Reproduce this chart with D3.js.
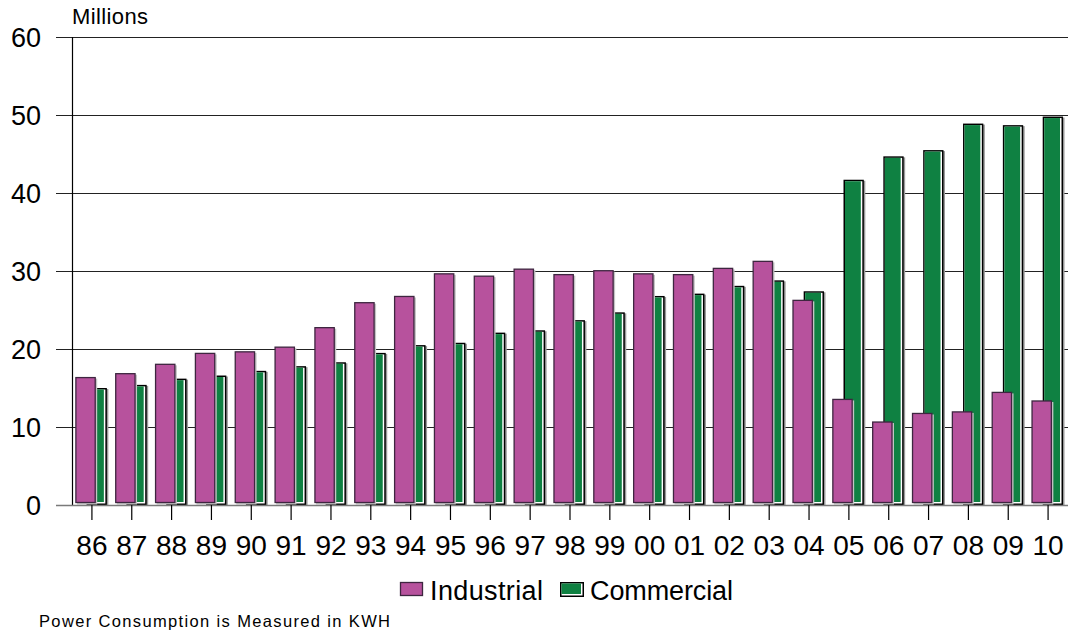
<!DOCTYPE html>
<html>
<head>
<meta charset="utf-8">
<script src="https://cdn.jsdelivr.net/npm/d3@7"></script>
<style>
  html, body { margin: 0; padding: 0; background: #fff; }
  svg { display: block; font-family: "Liberation Sans", Arial, sans-serif; }
</style>
</head>
<body>
<svg id="chart" width="1068" height="634"></svg>
<script>
(function () {
  'use strict';

  // ── Data ────────────────────────────────────────────────────────────────
  const years      = ['86','87','88','89','90','91','92','93','94','95','96','97','98',
                      '99','00','01','02','03','04','05','06','07','08','09','10'];
  const industrial = [16.4, 16.9, 18.1, 19.5, 19.7, 20.3, 22.8, 26.0, 26.8, 29.7, 29.4, 30.3, 29.6,
                      30.1, 29.7, 29.6, 30.4, 31.3, 26.3, 13.6, 10.7, 11.8, 12.0, 14.5, 13.4];
  const commercial = [15.0, 15.4, 16.2, 16.6, 17.2, 17.8, 18.3, 19.5, 20.5, 20.8, 22.1, 22.4, 23.7,
                      24.7, 26.8, 27.1, 28.1, 28.8, 27.4, 41.7, 44.7, 45.5, 48.9, 48.7, 49.8];
  const yTicks     = [0, 10, 20, 30, 40, 50, 60];

  const PINK = '#B7529D', PINK_EDGE = '#3e2640';
  const GREEN = '#0F8142';

  const svg = d3.select('#chart');
  const L = 72, R = 1068, T = 37, B = 505;

  const x = d3.scaleBand().domain(years).range([L, R]).padding(0);
  const y = d3.scaleLinear().domain([0, 60]).range([B, T]);
  const bw = x.bandwidth();
  const barW = bw * 0.51;

  // ── Grid & axes ─────────────────────────────────────────────────────────
  svg.append('g').selectAll('line').data(yTicks.filter(d => d > 0)).join('line')
    .attr('x1', 56).attr('x2', R)
    .attr('y1', d => Math.round(y(d)) + 0.5).attr('y2', d => Math.round(y(d)) + 0.5)
    .attr('stroke', '#222').attr('stroke-width', 1.2);

  svg.append('g').selectAll('text').data(yTicks).join('text')
    .attr('x', 41).attr('y', d => y(d) + 10)
    .attr('text-anchor', 'end').attr('font-size', 27).attr('fill', '#000')
    .text(d => d);

  svg.append('text').attr('x', 72).attr('y', 23.5)
    .attr('font-size', 22).attr('fill', '#000')
    .attr('textLength', 76).attr('lengthAdjust', 'spacing').text('Millions');

  // ── Bars ────────────────────────────────────────────────────────────────
  const barBottom = y(0) - 2;

  // commercial (behind)
  const gG = svg.append('g');
  years.forEach((yr, i) => {
    const x0 = x(yr) + bw * 0.365, top = y(commercial[i]);
    const g = gG.append('g');
    g.append('rect').attr('x', x0 + 1.5).attr('y', top + 1).attr('width', barW).attr('height', B - top)
      .attr('fill', '#9a9a9a');
    g.append('rect').attr('x', x0).attr('y', top).attr('width', barW).attr('height', B - top)
      .attr('fill', '#000');
    g.append('rect').attr('x', x0 + 1.5).attr('y', top + 1.5).attr('width', barW - 3).attr('height', B - top - 3)
      .attr('fill', '#fff');
    g.append('rect').attr('x', x0 + 1.5).attr('y', top + 1.5).attr('width', barW - 4.5).attr('height', B - top - 4.5)
      .attr('fill', GREEN);
  });

  // y axis line over green edges
  svg.append('line').attr('x1', L + 0.5).attr('x2', L + 0.5).attr('y1', T).attr('y2', B)
    .attr('stroke', '#000').attr('stroke-width', 1.2);

  // industrial (front)
  const gP = svg.append('g');
  years.forEach((yr, i) => {
    const x0 = x(yr) + bw * 0.085, top = y(industrial[i]);
    gP.append('rect').attr('x', x0 + 1.5).attr('y', top + 1.5).attr('width', barW).attr('height', barBottom - top)
      .attr('fill', '#c4c4c4');
    gP.append('rect').attr('x', x0 + 0.5).attr('y', top + 0.5).attr('width', barW - 1).attr('height', barBottom - top - 1)
      .attr('fill', PINK).attr('stroke', PINK_EDGE).attr('stroke-width', 1.3);
  });

  // baseline + category ticks
  svg.append('line').attr('x1', 56).attr('x2', R).attr('y1', B + 0.5).attr('y2', B + 0.5)
    .attr('stroke', '#7a7a7a').attr('stroke-width', 1.5);
  svg.append('g').selectAll('line').data(years).join('line')
    .attr('x1', d => x(d) + bw / 2).attr('x2', d => x(d) + bw / 2)
    .attr('y1', B).attr('y2', B + 15)
    .attr('stroke', '#000').attr('stroke-width', 1.2);

  svg.append('g').selectAll('text').data(years).join('text')
    .attr('x', d => x(d) + bw / 2).attr('y', 555)
    .attr('text-anchor', 'middle').attr('font-size', 28).attr('fill', '#000')
    .text(d => d);

  // ── Legend ──────────────────────────────────────────────────────────────
  const lg = svg.append('g');
  lg.append('rect').attr('x', 400.5).attr('y', 582.5).attr('width', 22).attr('height', 13)
    .attr('fill', PINK).attr('stroke', PINK_EDGE).attr('stroke-width', 1.3);
  lg.append('text').attr('x', 430).attr('y', 600).attr('font-size', 27)
    .attr('textLength', 113).attr('lengthAdjust', 'spacing').text('Industrial');
  lg.append('rect').attr('x', 560).attr('y', 582).attr('width', 24).attr('height', 15).attr('fill', '#000');
  lg.append('rect').attr('x', 561.5).attr('y', 583.5).attr('width', 21).attr('height', 12).attr('fill', '#fff');
  lg.append('rect').attr('x', 561.5).attr('y', 583.5).attr('width', 19.5).attr('height', 10.5).attr('fill', GREEN);
  lg.append('text').attr('x', 590).attr('y', 600).attr('font-size', 27)
    .attr('textLength', 143).attr('lengthAdjust', 'spacing').text('Commercial');

  svg.append('text').attr('x', 39).attr('y', 627).attr('font-size', 16.5).attr('fill', '#000')
    .attr('textLength', 351).attr('lengthAdjust', 'spacing')
    .text('Power Consumption is Measured in KWH');
})();
</script>
</body>
</html>
